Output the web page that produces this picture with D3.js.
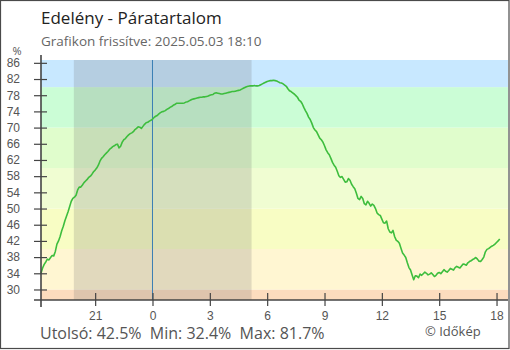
<!DOCTYPE html>
<html>
<head>
<meta charset="utf-8">
<script src="https://cdn.jsdelivr.net/npm/d3@7"></script>
<style>
  html, body { margin: 0; padding: 0; background: #fff; }
  svg { display: block; font-family: "Open Sans", sans-serif; }
</style>
</head>
<body>
<svg id="chart" width="510" height="350"></svg>
<script>
// Relative humidity, Edelény, 5-minute readings starting 2025-05-02 18:10
const startTime = new Date(2025, 4, 2, 18, 10);
const endTime = new Date(2025, 4, 3, 18, 36);
const stepMinutes = 5;
const humidity = [
  34.0, 35.3, 36.2, 36.8, 37.5, 37.3, 37.9, 38.4, 38.3, 39.4,
  41.2, 42.0, 43.1, 44.5, 45.6, 47.0, 48.1, 49.2, 50.5, 51.8,
  52.5, 52.8, 53.3, 54.6, 55.3, 55.3, 55.8, 56.4, 56.8, 57.2,
  57.7, 58.0, 58.5, 59.1, 59.5, 60.0, 60.7, 61.7, 62.4, 62.8,
  63.3, 63.7, 64.1, 64.6, 64.9, 65.3, 65.5, 65.8, 65.9, 65.0,
  65.4, 66.4, 67.0, 67.3, 67.8, 68.2, 68.5, 68.7, 69.0, 69.5,
  69.8, 70.2, 70.1, 69.8, 70.3, 70.8, 71.2, 71.3, 71.6, 71.8,
  72.1, 72.5, 72.8, 73.0, 73.4, 73.7, 73.9, 74.0, 74.2, 74.5,
  74.7, 75.0, 75.2, 75.5, 75.7, 76.0, 76.0, 76.0, 76.0, 76.0,
  76.1, 76.3, 76.4, 76.6, 76.8, 77.0, 77.1, 77.2, 77.3, 77.4,
  77.5, 77.5, 77.6, 77.6, 77.7, 77.8, 78.0, 78.1, 78.2, 78.5,
  78.6, 78.5, 78.4, 78.3, 78.3, 78.4, 78.5, 78.6, 78.7, 78.8,
  78.9, 78.9, 79.0, 79.1, 79.2, 79.3, 79.5, 79.7, 79.9, 80.1,
  80.2, 80.3, 80.3, 80.3, 80.4, 80.3, 80.3, 80.4, 80.6, 80.8,
  81.0, 81.2, 81.4, 81.5, 81.6, 81.6, 81.7, 81.6, 81.5, 81.3,
  81.1, 81.0, 80.8, 80.5, 80.2, 79.6, 79.1, 78.9, 78.6, 78.3,
  77.9, 77.5, 76.8, 76.5, 75.9, 75.0, 74.2, 73.5, 72.6, 72.0,
  71.1, 70.0, 69.4, 69.0, 68.2, 67.4, 67.0, 66.4, 65.5, 64.5,
  63.8, 63.3, 62.4, 61.4, 60.7, 60.2, 59.2, 58.1, 57.7, 57.9,
  57.2, 56.5, 56.6, 57.4, 57.0, 56.0, 55.4, 54.9, 53.8, 52.5,
  52.2, 53.0, 52.5, 51.2, 50.9, 51.8, 51.3, 50.6, 51.1, 50.8,
  50.0, 48.9, 48.5, 48.3, 47.4, 46.5, 46.4, 46.9, 45.0, 44.2,
  44.0, 44.6, 43.1, 42.2, 41.9, 41.4, 40.2, 39.0, 38.5, 37.9,
  36.6, 35.4, 34.8, 33.6, 32.4, 33.4, 33.3, 32.9, 33.8, 33.5,
  33.9, 34.3, 34.0, 33.6, 33.8, 34.1, 33.7, 33.2, 33.5, 34.0,
  34.2, 33.9, 34.4, 34.9, 34.5, 34.3, 34.7, 35.2, 35.0, 34.8,
  35.4, 35.7, 35.5, 35.3, 35.8, 36.3, 36.2, 36.0, 36.6, 36.9,
  37.1, 37.4, 37.6, 37.9, 37.5, 37.0, 36.9, 37.4, 38.0, 39.3,
  39.9, 40.1, 40.4, 40.7, 40.9, 41.2, 41.6, 42.0, 42.5
];

// Night period (sunset to sunrise)
const nightStart = new Date(2025, 4, 2, 19, 53);
const nightEnd = new Date(2025, 4, 3, 5, 11);

// Humidity bands: lower limits and fill colours
const bandLimits = [-Infinity, 30, 40, 50, 60, 70, 80];
const bandColors = ["#fcdcbe", "#fff6d2", "#f8fdc4", "#f0fdd2", "#e0fdcc", "#cbfdd6", "#c8e8ff"];

const yTickValues = [30, 34, 38, 42, 46, 50, 54, 58, 62, 66, 70, 74, 78, 82, 86];
const xTickTimes = [
  new Date(2025, 4, 2, 21), new Date(2025, 4, 3, 0), new Date(2025, 4, 3, 3),
  new Date(2025, 4, 3, 6), new Date(2025, 4, 3, 9), new Date(2025, 4, 3, 12),
  new Date(2025, 4, 3, 15), new Date(2025, 4, 3, 18)
];
const midnight = new Date(2025, 4, 3, 0);

const titleText = "Edelény - Páratartalom";
const subtitleText = "Grafikon frissítve: 2025.05.03 18:10";
const creditText = "© Időkép";

const points = humidity.map((v, i) => ({
  t: new Date(startTime.getTime() + i * stepMinutes * 60000),
  v
}));

const plotLeft = 41, plotRight = 508, plotTop = 60, plotBottom = 300;
const vMin = d3.min(humidity), vMax = d3.max(humidity);

const x = d3.scaleTime().domain([startTime, endTime]).range([plotLeft, plotRight]);
const y = d3.scaleLinear().domain([vMin - 5, vMax + 5]).range([plotBottom, plotTop]);

const svg = d3.select("#chart");

// outer frame
svg.append("rect")
  .attr("x", 0.5).attr("y", 0.5).attr("width", 508.5).attr("height", 348)
  .attr("fill", "#fff").attr("stroke", "#4a4a4a").attr("stroke-width", 1.2);

// coloured humidity bands
const [d0, d1] = y.domain();
bandLimits.forEach((lo, i) => {
  const hi = i + 1 < bandLimits.length ? bandLimits[i + 1] : Infinity;
  const a = Math.max(lo, d0), b = Math.min(hi, d1);
  if (b <= a) return;
  svg.append("rect")
    .attr("x", plotLeft).attr("width", plotRight - plotLeft)
    .attr("y", y(b)).attr("height", y(a) - y(b))
    .attr("fill", bandColors[i]);
});

// night shading
svg.append("rect")
  .attr("x", x(nightStart)).attr("width", x(nightEnd) - x(nightStart))
  .attr("y", plotTop).attr("height", plotBottom - plotTop)
  .attr("fill", "rgba(105,105,105,0.2)");

// midnight marker
svg.append("line")
  .attr("x1", x(midnight)).attr("x2", x(midnight))
  .attr("y1", plotTop).attr("y2", plotBottom)
  .attr("stroke", "#3b7fb5").attr("stroke-width", 1);

// humidity line
svg.append("path")
  .datum(points)
  .attr("fill", "none")
  .attr("stroke", "#3dbd3d")
  .attr("stroke-width", 1.6)
  .attr("stroke-linejoin", "round")
  .attr("d", d3.line().x(d => x(d.t)).y(d => y(d.v)));

// y axis
const yAxis = svg.append("g")
  .attr("transform", `translate(${plotLeft},0)`)
  .call(d3.axisLeft(y).tickValues(yTickValues).tickSize(7).tickPadding(14));
yAxis.select(".domain").remove();
yAxis.selectAll(".tick line").attr("x1", 6).attr("stroke", "#444").attr("stroke-width", 1.2);
yAxis.selectAll(".tick text").attr("fill", "#555").style("font-size", "12px");

// x axis
const xAxis = svg.append("g")
  .attr("transform", `translate(0,${plotBottom})`)
  .call(d3.axisBottom(x).tickValues(xTickTimes).tickFormat(d3.timeFormat("%-H")).tickSize(6).tickPadding(5));
xAxis.select(".domain").remove();
xAxis.selectAll(".tick line").attr("y1", -7).attr("stroke", "#444").attr("stroke-width", 1.2);
xAxis.selectAll(".tick text").attr("fill", "#555").style("font-size", "12px");

// axis lines
svg.append("line").attr("x1", plotLeft).attr("x2", plotLeft).attr("y1", 55).attr("y2", 307)
  .attr("stroke", "#444").attr("stroke-width", 1.6);
svg.append("line").attr("x1", 34).attr("x2", plotRight).attr("y1", plotBottom).attr("y2", plotBottom)
  .attr("stroke", "#444").attr("stroke-width", 1.6);

// unit label
svg.append("text").attr("x", 17).attr("y", 55).attr("text-anchor", "middle")
  .attr("fill", "#555").style("font-size", "11px").text("%");

// titles
svg.append("text").attr("x", 41).attr("y", 24)
  .attr("fill", "#222").style("font-size", "17px").text(titleText);
svg.append("text").attr("x", 41).attr("y", 46)
  .attr("fill", "#666").style("font-size", "13.5px").text(subtitleText);

// summary line
const last = humidity[humidity.length - 1];
const f = d3.format(".1f");
svg.append("text").attr("x", 40).attr("y", 339)
  .attr("fill", "#555").style("font-size", "16px")
  .attr("xml:space", "preserve")
  .text(`Utolsó: ${f(last)}%  Min: ${f(vMin)}%  Max: ${f(vMax)}%`);

svg.append("text").attr("x", 425).attr("y", 336)
  .attr("fill", "#555").style("font-size", "13px").text(creditText);
</script>
</body>
</html>
